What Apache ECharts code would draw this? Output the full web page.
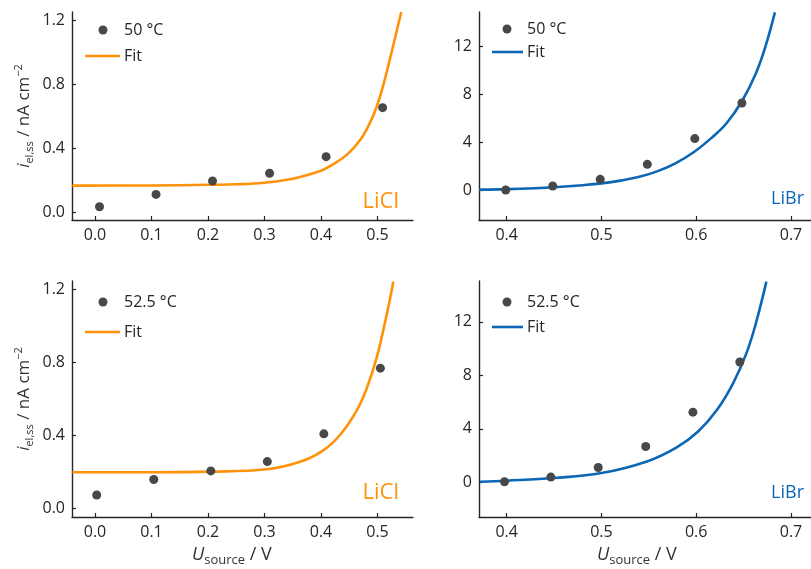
<!DOCTYPE html>
<html>
<head>
<meta charset="utf-8">
<title>Steady-state current vs source voltage</title>
<script src="https://cdn.jsdelivr.net/npm/echarts@6/dist/echarts.min.js"></script>
<style>
  html, body { margin: 0; padding: 0; background: #fff; }
  #chart { width: 811px; height: 569px; }
</style>
</head>
<body>
<div id="chart"></div>
<script>
// LiCl, 50 °C
const liclU50 = [0.008, 0.108, 0.208, 0.309, 0.409, 0.509]
const liclI50 = [0.033, 0.11, 0.194, 0.242, 0.346, 0.652]
const liclFitU50 = [-0.04, 0.1, 0.2, 0.25, 0.3, 0.35, 0.4, 0.416, 0.4455, 0.469, 0.487, 0.4985, 0.51, 0.525, 0.542]
const liclFitI50 = [0.165, 0.166, 0.17, 0.173, 0.183, 0.208, 0.258, 0.287, 0.357, 0.448, 0.56, 0.658, 0.79, 1.0, 1.25]

// LiCl, 52.5 °C
const liclU525 = [0.003, 0.104, 0.205, 0.305, 0.405, 0.505]
const liclI525 = [0.075, 0.16, 0.207, 0.258, 0.41, 0.77]
const liclFitU525 = [-0.04, 0.1, 0.204, 0.304, 0.363, 0.404, 0.434, 0.463, 0.481, 0.499, 0.516, 0.528]
const liclFitI525 = [0.2, 0.2, 0.203, 0.216, 0.257, 0.32, 0.405, 0.537, 0.66, 0.833, 1.06, 1.244]

// LiBr, 50 °C
const librU50 = [0.399, 0.4486, 0.4987, 0.5484, 0.5985, 0.6482]
const librI50 = [0.0, 0.33, 0.89, 2.14, 4.28, 7.25]
const librFitU50 = [0.371, 0.4, 0.43, 0.45, 0.48, 0.5, 0.52, 0.54, 0.558, 0.578, 0.598, 0.6155, 0.632, 0.649, 0.663, 0.673, 0.683]
const librFitI50 = [0.03, 0.07, 0.15, 0.23, 0.4, 0.55, 0.78, 1.1, 1.53, 2.22, 3.19, 4.3, 5.56, 7.5, 9.72, 11.94, 14.8]

// LiBr, 52.5 °C
const librU525 = [0.3977, 0.4466, 0.4966, 0.5467, 0.5965, 0.646]
const librI525 = [0.05, 0.4, 1.12, 2.69, 5.25, 9.0]
const librFitU525 = [0.372, 0.4, 0.45, 0.5, 0.548, 0.579, 0.602, 0.622, 0.639, 0.653, 0.663, 0.674]
const librFitI525 = [0.05, 0.13, 0.33, 0.7, 1.57, 2.6, 3.81, 5.43, 7.42, 9.66, 11.9, 15.0]

// tick labels
const liclXTicks = [0, 0.1, 0.2, 0.3, 0.4, 0.5]
const liclYTicks = [0, 0.4, 0.8, 1.2]
const librXTicks = [0.4, 0.5, 0.6, 0.7]
const librYTicks = [0, 4, 8, 12]

const ORANGE = '#FF9208'
const BLUE = '#0B66B5'
const DOT = '#484848'
const INK = '#262626'
const FONT = '"Open Sans", "Noto Sans", sans-serif'

const zip = (xs, ys) => xs.map((x, i) => [x, ys[i]])

function xAxisFor(grid, min, max, ticks) {
  return {
    type: 'value', gridIndex: grid, min, max,
    axisLine: { onZero: false, lineStyle: { color: INK, width: 1.4 } },
    axisTick: { inside: true, length: 4, customValues: ticks, lineStyle: { color: INK, width: 1.2 } },
    axisLabel: {
      customValues: ticks, margin: 7, color: INK, fontSize: 16, fontFamily: FONT,
      formatter: v => v.toFixed(1)
    },
    splitLine: { show: false }
  }
}

const yName = {
  name: '{i|i}{sub|el,ss}{n| / nA cm}{sup|\u22122}',
  nameLocation: 'middle', nameRotate: 90, nameGap: 37,
  nameTextStyle: {
    color: '#333', fontFamily: FONT,
    rich: {
      i: { fontSize: 17, fontStyle: 'italic', lineHeight: 22, fontFamily: FONT, color: '#333' },
      n: { fontSize: 17, lineHeight: 22, fontFamily: FONT, color: '#333' },
      sub: { fontSize: 11, lineHeight: 12, verticalAlign: 'bottom', fontFamily: FONT, color: '#333' },
      sup: { fontSize: 11, lineHeight: 12, verticalAlign: 'top', fontFamily: FONT, color: '#333' }
    }
  }
}

function yAxisFor(grid, min, max, ticks, digits, withName) {
  return Object.assign({
    type: 'value', gridIndex: grid, min, max,
    axisLine: { onZero: false, lineStyle: { color: INK, width: 1.4 } },
    axisTick: { inside: true, length: 4, customValues: ticks, lineStyle: { color: INK, width: 1.2 } },
    axisLabel: {
      customValues: ticks, margin: 7, color: INK, fontSize: 16, fontFamily: FONT,
      formatter: v => v.toFixed(digits)
    },
    splitLine: { show: false }
  }, withName ? yName : {})
}

function scatter(idx, xs, ys) {
  return {
    type: 'scatter', xAxisIndex: idx, yAxisIndex: idx,
    data: zip(xs, ys), symbolSize: 9,
    itemStyle: { color: DOT, opacity: 1 }, z: 3
  }
}

function fit(idx, xs, ys, color) {
  return {
    type: 'line', xAxisIndex: idx, yAxisIndex: idx,
    data: zip(xs, ys), smooth: 0.4, showSymbol: false, clip: true,
    lineStyle: { color, width: 2.6 }, z: 2
  }
}

function legendItems(x, yDot, yLine, temp, color, lineX0, lineX1) {
  return [
    { type: 'circle', shape: { cx: x.dot, cy: yDot, r: 4.5 }, style: { fill: DOT } },
    { type: 'text', x: x.text, y: yDot, style: { text: temp, fill: INK, font: '16px ' + FONT, verticalAlign: 'middle' } },
    { type: 'line', shape: { x1: lineX0, y1: yLine, x2: lineX1, y2: yLine }, style: { stroke: color, lineWidth: 2.6 } },
    { type: 'text', x: x.text, y: yLine, style: { text: 'Fit', fill: INK, font: '16px ' + FONT, verticalAlign: 'middle' } }
  ]
}

function tag(text, x, y, color, size) {
  return { type: 'text', x, y, style: { text, fill: color, font: size + 'px ' + FONT, align: 'right', verticalAlign: 'middle' } }
}

const xName = {
  i: { fontSize: 18, fontStyle: 'italic', lineHeight: 24, fontFamily: FONT, fill: '#333' },
  n: { fontSize: 18, lineHeight: 24, fontFamily: FONT, fill: '#333' },
  sub: { fontSize: 13, lineHeight: 13, verticalAlign: 'bottom', fontFamily: FONT, fill: '#333' }
}

function xLabel(x, y) {
  return { type: 'text', x, y, style: { text: '{i|U}{sub|source}{n| / V}', rich: xName, verticalAlign: 'middle' } }
}

const chart = echarts.init(document.getElementById('chart'), null, { renderer: 'canvas' })
chart.setOption({
  backgroundColor: '#fff',
  animation: false,
  grid: [
    { left: 72, top: 12, width: 341, height: 208 },
    { left: 479, top: 12, width: 345, height: 208 },
    { left: 72, top: 281, width: 341, height: 236 },
    { left: 479, top: 281, width: 345, height: 236 }
  ],
  xAxis: [
    xAxisFor(0, -0.0407, 0.5628, liclXTicks),
    xAxisFor(1, 0.3708, 0.7211, librXTicks),
    xAxisFor(2, -0.0407, 0.5628, liclXTicks),
    xAxisFor(3, 0.3708, 0.7211, librXTicks)
  ],
  yAxis: [
    yAxisFor(0, -0.05, 1.25, liclYTicks, 1, true),
    yAxisFor(1, -2.5, 14.83, librYTicks, 0, false),
    yAxisFor(2, -0.0455, 1.2477, liclYTicks, 1, true),
    yAxisFor(3, -2.58, 15.05, librYTicks, 0, false)
  ],
  series: [
    fit(0, liclFitU50, liclFitI50, ORANGE),
    scatter(0, liclU50, liclI50),
    fit(1, librFitU50, librFitI50, BLUE),
    scatter(1, librU50, librI50),
    fit(2, liclFitU525, liclFitI525, ORANGE),
    scatter(2, liclU525, liclI525),
    fit(3, librFitU525, librFitI525, BLUE),
    scatter(3, librU525, librI525)
  ],
  graphic: [
    ...legendItems({ dot: 103, text: 124 }, 30, 56, '50 °C', ORANGE, 85, 120),
    ...legendItems({ dot: 507, text: 527 }, 29, 52, '50 °C', BLUE, 492, 523),
    ...legendItems({ dot: 103, text: 124 }, 302, 332, '52.5 °C', ORANGE, 85, 120),
    ...legendItems({ dot: 507, text: 527 }, 302, 327, '52.5 °C', BLUE, 492, 523),
    tag('LiCl', 399, 202, ORANGE, 22),
    tag('LiCl', 399, 493, ORANGE, 22),
    tag('LiBr', 804, 199, BLUE, 18),
    tag('LiBr', 804, 493, BLUE, 18),
    xLabel(192, 555),
    xLabel(597, 555)
  ]
})
</script>
</body>
</html>
